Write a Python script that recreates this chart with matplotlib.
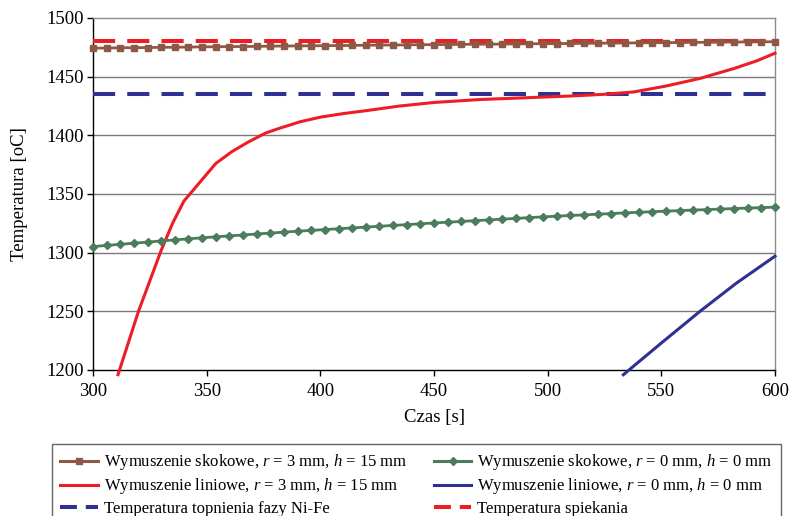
import matplotlib
matplotlib.use("Agg")
import matplotlib.pyplot as plt
from matplotlib.lines import Line2D

plt.rcParams['font.family'] = ['Liberation Serif', 'DejaVu Serif']
plt.rcParams['mathtext.fontset'] = 'custom'
plt.rcParams['mathtext.rm'] = 'Liberation Serif'
plt.rcParams['mathtext.it'] = 'Liberation Serif:italic'

# Step excitation series sampled every 6 s
t_step = [300, 306, 312, 318, 324, 330, 336, 342, 348, 354, 360, 366, 372, 378, 384,
          390, 396, 402, 408, 414, 420, 426, 432, 438, 444, 450, 456, 462, 468, 474,
          480, 486, 492, 498, 504, 510, 516, 522, 528, 534, 540, 546, 552, 558, 564,
          570, 576, 582, 588, 594, 600]
T_step_r3 = [1474.3, 1474.4, 1474.6, 1474.7, 1474.8, 1475.0, 1475.1, 1475.2, 1475.4, 1475.5,
             1475.6, 1475.7, 1475.8, 1476.0, 1476.1, 1476.2, 1476.3, 1476.4, 1476.5, 1476.6,
             1476.8, 1476.9, 1477.0, 1477.1, 1477.2, 1477.3, 1477.4, 1477.5, 1477.6, 1477.7,
             1477.8, 1477.9, 1478.0, 1478.1, 1478.2, 1478.3, 1478.4, 1478.5, 1478.6, 1478.7,
             1478.8, 1478.9, 1479.0, 1479.1, 1479.2, 1479.3, 1479.4, 1479.5, 1479.6, 1479.7,
             1479.8]
T_step_r0 = [1305.2, 1306.2, 1307.1, 1308.1, 1309.0, 1310.0, 1310.9, 1311.8, 1312.7, 1313.5,
             1314.3, 1315.1, 1315.9, 1316.7, 1317.5, 1318.3, 1319.0, 1319.7, 1320.4, 1321.1,
             1321.8, 1322.5, 1323.2, 1323.9, 1324.6, 1325.3, 1326.0, 1326.6, 1327.3, 1327.9,
             1328.6, 1329.2, 1329.9, 1330.5, 1331.1, 1331.7, 1332.2, 1332.8, 1333.3, 1333.9,
             1334.4, 1334.9, 1335.4, 1335.8, 1336.3, 1336.7, 1337.2, 1337.6, 1338.0, 1338.4,
             1338.8]

# Linear excitation series
t_lin_r3 = [311, 315, 320, 325, 330, 335, 340, 347, 354, 361, 368, 376, 382, 391, 400,
            410, 420, 435, 450, 470, 490, 510, 525, 538, 552, 567, 582, 592, 600]
T_lin_r3 = [1196, 1220, 1250, 1276, 1302, 1325, 1344, 1360, 1376, 1386, 1394, 1402, 1406,
            1411.5, 1415.5, 1418.5, 1421, 1425, 1428, 1430.5, 1432, 1433.5, 1435, 1437,
            1442, 1448.5, 1457, 1463.5, 1470]
t_lin_r0 = [533.3, 550, 567, 583, 600]
T_lin_r0 = [1196, 1223, 1250, 1274, 1297]

# Reference temperatures
T_melt_NiFe = 1435
T_sinter = 1480

xticks = [300, 350, 400, 450, 500, 550, 600]
yticks = [1200, 1250, 1300, 1350, 1400, 1450, 1500]

brown = '#8E5846'
green = '#4B7D5C'
red = '#EE1D25'
blue = '#2E3192'

fig = plt.figure(figsize=(7.92, 5.16), dpi=100)
ax = fig.add_axes([93 / 792, 1 - 370 / 516, 682 / 792, 352 / 516])

for y in yticks[1:-1]:
    ax.axhline(y, color='#7A7A7A', lw=1.0, zorder=1)

dash = (5.5, 3.0)
ax.plot([300, 600], [T_sinter, T_sinter], color=red, lw=2.9, ls=(0, dash), zorder=3)
ax.plot([300, 600], [T_melt_NiFe, T_melt_NiFe], color=blue, lw=2.9, ls=(0, dash), zorder=3)

ax.plot(t_lin_r3, T_lin_r3, color=red, lw=2.2, zorder=4, clip_on=False)
ax.plot(t_lin_r0, T_lin_r0, color=blue, lw=2.2, zorder=4, clip_on=False)

ax.plot(t_step, T_step_r3, color=brown, lw=2.0, marker='s', ms=5, mec=brown, mfc=brown,
        zorder=5, clip_on=False)
ax.plot(t_step, T_step_r0, color=green, lw=2.0, marker='D', ms=4.5, mec=green, mfc=green,
        zorder=5, clip_on=False)

ax.set_xlim(300, 600)
ax.set_ylim(1200, 1500)
ax.set_xticks(xticks)
ax.set_yticks(yticks)
ax.tick_params(axis='both', labelsize=13.5, length=4, width=1, color='black')
ax.tick_params(axis='x', pad=5.5)
ax.tick_params(axis='y', pad=2.5)

for side in ('left', 'bottom'):
    ax.spines[side].set_color('black')
    ax.spines[side].set_linewidth(1.0)
for side in ('top', 'right'):
    ax.spines[side].set_color('#8C8C8C')
    ax.spines[side].set_linewidth(1.0)

ax.set_xlabel('Czas [s]', fontsize=13.5, labelpad=6)
ax.set_ylabel('Temperatura [oC]', fontsize=13.5, labelpad=13)

handles = [
    Line2D([], [], color=brown, lw=2.2, marker='s', ms=4),
    Line2D([], [], color=red, lw=2.2),
    Line2D([], [], color=blue, lw=2.9, ls=(0, (4.2, 2.2))),
    Line2D([], [], color=green, lw=2.2, marker='D', ms=4),
    Line2D([], [], color=blue, lw=2.2),
    Line2D([], [], color=red, lw=2.9, ls=(0, (4.2, 2.2))),
]
labels = [
    'Wymuszenie skokowe, $r$ = 3 mm, $h$ = 15 mm',
    'Wymuszenie liniowe, $r$ = 3 mm, $h$ = 15 mm',
    'Temperatura topnienia fazy Ni-Fe',
    'Wymuszenie skokowe, $r$ = 0 mm, $h$ = 0 mm',
    'Wymuszenie liniowe, $r$ = 0 mm, $h$ = 0 mm',
    'Temperatura spiekania',
]
leg = fig.legend(handles, labels, ncol=2, loc='upper left',
                 bbox_to_anchor=(52 / 792, 1 - 444 / 516), fontsize=12.0,
                 frameon=True, fancybox=False, edgecolor='#404040',
                 handlelength=2.25, handletextpad=0.35, columnspacing=1.6,
                 labelspacing=0.25, borderpad=0.5, borderaxespad=0)
leg.get_frame().set_linewidth(1.0)

fig.savefig('out.png', dpi=100)
